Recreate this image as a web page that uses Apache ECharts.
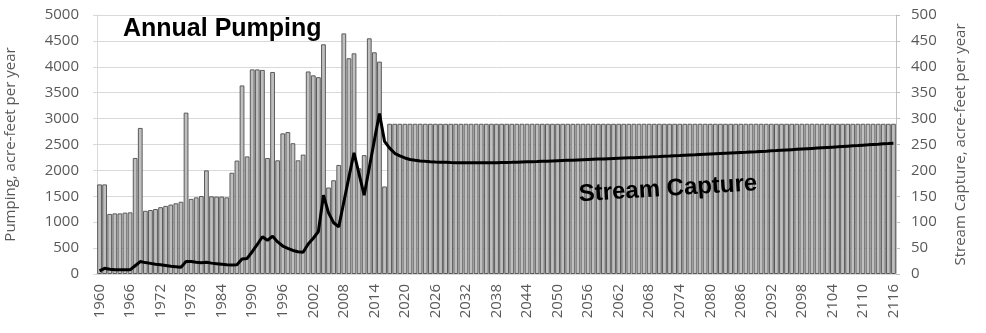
<!DOCTYPE html>
<html>
<head>
<meta charset="utf-8">
<title>Annual Pumping and Stream Capture</title>
<script src="https://cdn.jsdelivr.net/npm/echarts@6/dist/echarts.min.js"></script>
<style>
  html, body { margin: 0; padding: 0; background: #fff; }
  #main { width: 986px; height: 333px; }
</style>
</head>
<body>
<div id="main"></div>
<script>
var chart = echarts.init(document.getElementById('main'));

// years on the category axis, 1960 .. 2116
var firstYear = 1960;
var lastYear = 2116;
var years = [];
for (var y = firstYear; y <= lastYear; y++) {
    years.push(String(y));
}

// annual pumping, acre-feet per year (left axis)
var pumpingHistoric = [
    1730, 1730, 1160, 1170, 1170, 1185, 1190, 2240, 2820, 1220,   // 1960-1969
    1235, 1255, 1290, 1315, 1340, 1365, 1395, 3115, 1450, 1480,   // 1970-1979
    1505, 2000, 1500, 1495, 1495, 1480, 1955, 2190, 3640, 2270,   // 1980-1989
    3950, 3950, 3940, 2240, 3900, 2195, 2715, 2740, 2525, 2195,   // 1990-1999
    2305, 3910, 3835, 3800, 4435, 1670, 1810, 2105, 4645, 4165,   // 2000-2009
    4260, 2040, 2295, 4550, 4280, 4100, 1690                      // 2010-2016
];
var pumpingProjected = [
    2900, 2900, 2900,                                             // 2017-2019
    2900, 2900, 2900, 2900, 2900, 2900, 2900, 2900, 2900, 2900,   // 2020s
    2900, 2900, 2900, 2900, 2900, 2900, 2900, 2900, 2900, 2900,   // 2030s
    2900, 2900, 2900, 2900, 2900, 2900, 2900, 2900, 2900, 2900,   // 2040s
    2900, 2900, 2900, 2900, 2900, 2900, 2900, 2900, 2900, 2900,   // 2050s
    2900, 2900, 2900, 2900, 2900, 2900, 2900, 2900, 2900, 2900,   // 2060s
    2900, 2900, 2900, 2900, 2900, 2900, 2900, 2900, 2900, 2900,   // 2070s
    2900, 2900, 2900, 2900, 2900, 2900, 2900, 2900, 2900, 2900,   // 2080s
    2900, 2900, 2900, 2900, 2900, 2900, 2900, 2900, 2900, 2900,   // 2090s
    2900, 2900, 2900, 2900, 2900, 2900, 2900, 2900, 2900, 2900,   // 2100s
    2900, 2900, 2900, 2900, 2900, 2900, 2900                      // 2110-2116
];

// stream capture, acre-feet per year (right axis)
var captureHistoric = [
    6, 11, 9, 8, 8, 8, 8, 16, 24, 22,                             // 1960s
    20.5, 19, 18, 16.5, 15, 14, 13, 24, 24, 22.5,                 // 1970s
    21.5, 22.5, 21, 20, 19, 18, 17.5, 18, 29, 30,                 // 1980s
    43, 57, 72, 65, 73, 62, 54, 49.5, 45.5, 43,                   // 1990s
    42, 58, 69, 82, 152, 118, 99, 91, 139, 187,                   // 2000s
    234, 193, 152, 205, 258, 310, 256                             // 2010-2016
];
var captureProjected = [
    243, 233, 228,                                                        // 2017-2019
    224, 221, 219.5, 218.3, 217.5, 216.8, 216.2, 215.8, 215.5, 215.2,     // 2020s
    215, 214.8, 214.7, 214.6, 214.6, 214.6, 214.7, 214.8, 215, 215.2,     // 2030s
    215.4, 215.6, 215.9, 216.2, 216.5, 216.8, 217.1, 217.5, 217.8, 218.2, // 2040s
    218.6, 219, 219.4, 219.8, 220.2, 220.6, 221, 221.4, 221.8, 222.2,     // 2050s
    222.6, 223, 223.4, 223.8, 224.2, 224.6, 225.1, 225.5, 225.9, 226.4,   // 2060s
    226.8, 227.3, 227.7, 228.2, 228.6, 229.1, 229.6, 230, 230.5, 231,     // 2070s
    231.5, 232, 232.5, 233, 233.5, 234, 234.5, 235, 235.6, 236.1,         // 2080s
    236.7, 237.2, 237.8, 238.3, 238.9, 239.5, 240.1, 240.7, 241.3, 241.9, // 2090s
    242.5, 243.1, 243.7, 244.3, 244.9, 245.5, 246.2, 246.8, 247.4, 248,   // 2100s
    248.7, 249.3, 250, 250.6, 251.3, 251.9, 252.6                         // 2110-2116
];

var pumping = pumpingHistoric.concat(pumpingProjected);
var capture = captureHistoric.concat(captureProjected);

var labelFont = '"Open Sans", "Liberation Sans", sans-serif';
var gridGray = '#d9d9d9';
var textGray = '#595959';

// plain numbers, no thousands separator
function plain(v) { return String(v); }

var option = {
    animation: false,
    backgroundColor: '#fff',
    grid: {
        left: 97,
        right: 90,
        top: 15,
        bottom: 59,
        containLabel: false,
        outerBoundsMode: 'none'
    },
    xAxis: {
        type: 'category',
        data: years,
        axisLine: { lineStyle: { color: gridGray, width: 2 } },
        axisTick: { show: false },
        axisLabel: {
            interval: 5,
            rotate: 90,
            margin: 10,
            color: textGray,
            fontSize: 15,
            fontFamily: labelFont
        }
    },
    yAxis: [
        {
            type: 'value',
            min: 0,
            max: 5000,
            interval: 500,
            name: 'Pumping, acre-feet per year',
            nameLocation: 'middle',
            nameRotate: 90,
            nameGap: 79,
            nameTextStyle: { color: textGray, fontSize: 15, fontFamily: labelFont },
            axisLine: { show: true, lineStyle: { color: gridGray } },
            axisTick: { show: true, length: 4, lineStyle: { color: gridGray } },
            axisLabel: { margin: 18, color: textGray, fontSize: 15, fontFamily: labelFont, formatter: plain },
            splitLine: { lineStyle: { color: gridGray, width: 1 } }
        },
        {
            type: 'value',
            min: 0,
            max: 500,
            interval: 50,
            name: 'Stream Capture, acre-feet per year',
            nameLocation: 'middle',
            nameRotate: 90,
            nameGap: 57,
            nameTextStyle: { color: textGray, fontSize: 15, fontFamily: labelFont },
            axisLine: { show: true, lineStyle: { color: '#bfbfbf' } },
            axisTick: { show: true, length: 4, lineStyle: { color: '#bfbfbf' } },
            axisLabel: { margin: 15, color: textGray, fontSize: 15, fontFamily: labelFont, formatter: plain },
            splitLine: { show: false }
        }
    ],
    graphic: [
        {
            type: 'text',
            left: 123,
            top: 17,
            style: {
                text: 'Annual Pumping',
                fill: '#000',
                font: 'bold 25px "Liberation Sans", Arial, sans-serif'
            },
            z: 100
        },
        {
            type: 'text',
            x: 668,
            y: 189,
            rotation: 0.062,
            style: {
                text: 'Stream Capture',
                fill: '#000',
                align: 'center',
                verticalAlign: 'middle',
                font: 'bold 24px "Liberation Sans", Arial, sans-serif'
            },
            z: 100
        }
    ],
    series: [
        {
            name: 'Annual Pumping',
            type: 'bar',
            data: pumping,
            barCategoryGap: '6%',
            itemStyle: {
                color: '#bfbfbf',
                borderColor: '#5a5a5a',
                borderWidth: 1
            }
        },
        {
            name: 'Stream Capture',
            type: 'line',
            yAxisIndex: 1,
            data: capture,
            symbol: 'none',
            smooth: false,
            lineStyle: { color: '#000', width: 3 },
            z: 10
        }
    ]
};

chart.setOption(option);
</script>
</body>
</html>
